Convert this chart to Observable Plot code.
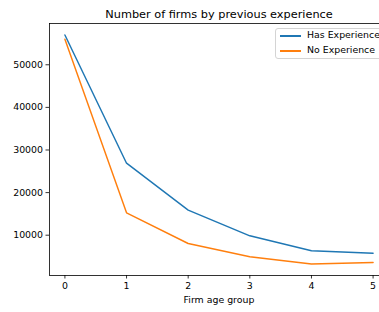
<!DOCTYPE html>
<html>
<head>
<meta charset="utf-8">
<script src="https://cdn.jsdelivr.net/npm/d3@7"></script>
<script src="https://cdn.jsdelivr.net/npm/@observablehq/plot@0.6"></script>
<style>
  html, body { margin: 0; padding: 0; background: #fff; }
  #wrap { position: relative; width: 379px; height: 312px; overflow: hidden; font-family: "DejaVu Sans", sans-serif; }
  #wrap svg { max-width: none !important; width: 388px !important; height: 312px !important; display: block; }
  #legend { position: absolute; left: 275px; top: 28px; width: 108px; height: 31px; box-sizing: border-box;
            border: 1px solid #d4d4d4; border-radius: 3px; background: rgba(255,255,255,0.8); }
  .item { position: absolute; left: 0; height: 12px; font-size: 9.4px; color: #000; white-space: nowrap; }
  .swatch { position: absolute; left: 4px; width: 21px; height: 1.5px; }
  .lbl { position: absolute; left: 31px; top: -6px; line-height: 12px; }
</style>
</head>
<body>
<div id="wrap"></div>
<script>
const title = "Number of firms by previous experience";
const xLabel = "Firm age group";
const ageGroups = [0, 1, 2, 3, 4, 5];
const hasExperience = [57000, 26900, 15870, 9860, 6340, 5780];
const noExperience = [56000, 15260, 8050, 4930, 3230, 3590];
const seriesNames = ["Has Experience", "No Experience"];
const seriesColors = ["#1f77b4", "#ff7f0e"];
const yTicks = [10000, 20000, 30000, 40000, 50000];

const rows = [];
ageGroups.forEach((g, i) => {
  rows.push({group: g, value: hasExperience[i], series: seriesNames[0]});
  rows.push({group: g, value: noExperience[i], series: seriesNames[1]});
});

const all = hasExperience.concat(noExperience);
const lo = d3.min(all), hi = d3.max(all), pad = 0.05 * (hi - lo);
const xlo = d3.min(ageGroups), xhi = d3.max(ageGroups), xpad = 0.05 * (xhi - xlo);

const chart = Plot.plot({
  width: 388,
  height: 312,
  marginLeft: 49,
  marginRight: 0,
  marginTop: 23,
  marginBottom: 37,
  style: { fontFamily: "DejaVu Sans, sans-serif", fontSize: "9.4px", color: "#000", background: "#fff", maxWidth: "none" },
  x: { domain: [xlo - xpad, xhi + xpad] },
  y: { domain: [lo - pad, hi + pad] },
  color: { domain: seriesNames, range: seriesColors },
  marks: [
    Plot.axisX({ ticks: ageGroups, tickSize: 3.5, tickPadding: 3, tickFormat: d => String(d), label: null, stroke: "#000", strokeWidth: 0.8 }),
    Plot.axisY({ ticks: yTicks, tickSize: 3.5, tickPadding: 3, tickFormat: d => String(d), label: null, stroke: "#000", strokeWidth: 0.8 }),
    Plot.line(rows, { x: "group", y: "value", z: "series", stroke: "series", strokeWidth: 1.45 }),
    Plot.frame({ stroke: "#000", strokeWidth: 0.8 }),
    Plot.text([title], { frameAnchor: "top", lineAnchor: "bottom", dy: -6, fontSize: 11.3, fill: "#000" }),
    Plot.text([xLabel], { frameAnchor: "bottom", lineAnchor: "middle", dy: 24.5, fontSize: 9.4, fill: "#000" })
  ]
});

const wrap = document.getElementById("wrap");
wrap.appendChild(chart);

const legend = document.createElement("div");
legend.id = "legend";
seriesNames.forEach((name, i) => {
  const item = document.createElement("div");
  item.className = "item";
  item.style.top = (6 + i * 15) + "px";
  const sw = document.createElement("div");
  sw.className = "swatch";
  sw.style.background = seriesColors[i];
  const lb = document.createElement("div");
  lb.className = "lbl";
  lb.textContent = name;
  item.appendChild(sw);
  item.appendChild(lb);
  legend.appendChild(item);
});
wrap.appendChild(legend);
</script>
</body>
</html>
